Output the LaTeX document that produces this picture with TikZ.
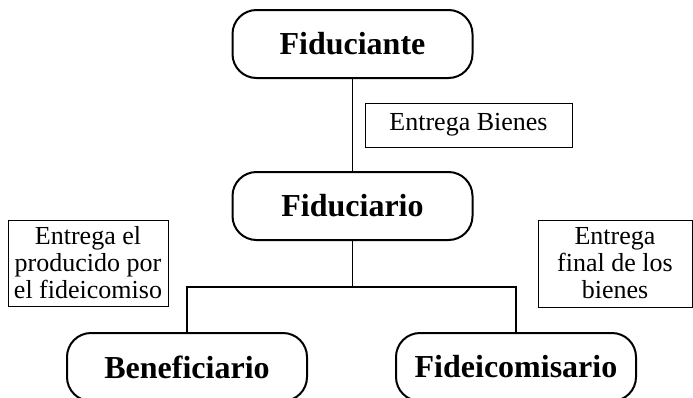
\documentclass[tikz,border=0pt]{standalone}
\usepackage{fontspec}
\setmainfont{Liberation Serif}
\begin{document}
\begin{tikzpicture}[x=1pt,y=-1pt,
  party/.style={draw, line width=2pt, rounded corners=24pt, minimum width=240pt, minimum height=68pt,
    inner sep=0pt, font=\fontsize{32}{34}\selectfont\bfseries},
  note/.style={draw, line width=0.9pt, inner sep=0pt, align=center,
    font=\fontsize{26}{27}\selectfont},
  link/.style={line width=1.1pt}]
\useasboundingbox (0,0) rectangle (693,397);
\clip (0,0) rectangle (693,397);
\node[party] (fte) at (352.5,44) {Fiduciante};
\node[party] (fio) at (352.5,206) {Fiduciario};
\node[party] (ben) at (187,367) {Beneficiario};
\node[party] (fic) at (516,367) {Fideicomisario};
\coordinate (j) at (352.5,287);
\draw[link] (fte.south) -- (fio.north);
\draw[link] (fio.south) -- (j);
\draw[link] (ben.north) |- (j) -| (fic.north);
\node[note, minimum width=207pt, minimum height=44pt] (n1) at (468.5,125) {Entrega Bienes};
\node[note, minimum width=160pt, minimum height=86pt] (n2) at (88,263) {Entrega el\\producido por\\el fideicomiso};
\node[note, minimum width=154pt, minimum height=87pt] (n3) at (615,263.5) {Entrega\\final de los\\bienes};
\end{tikzpicture}
\end{document}
